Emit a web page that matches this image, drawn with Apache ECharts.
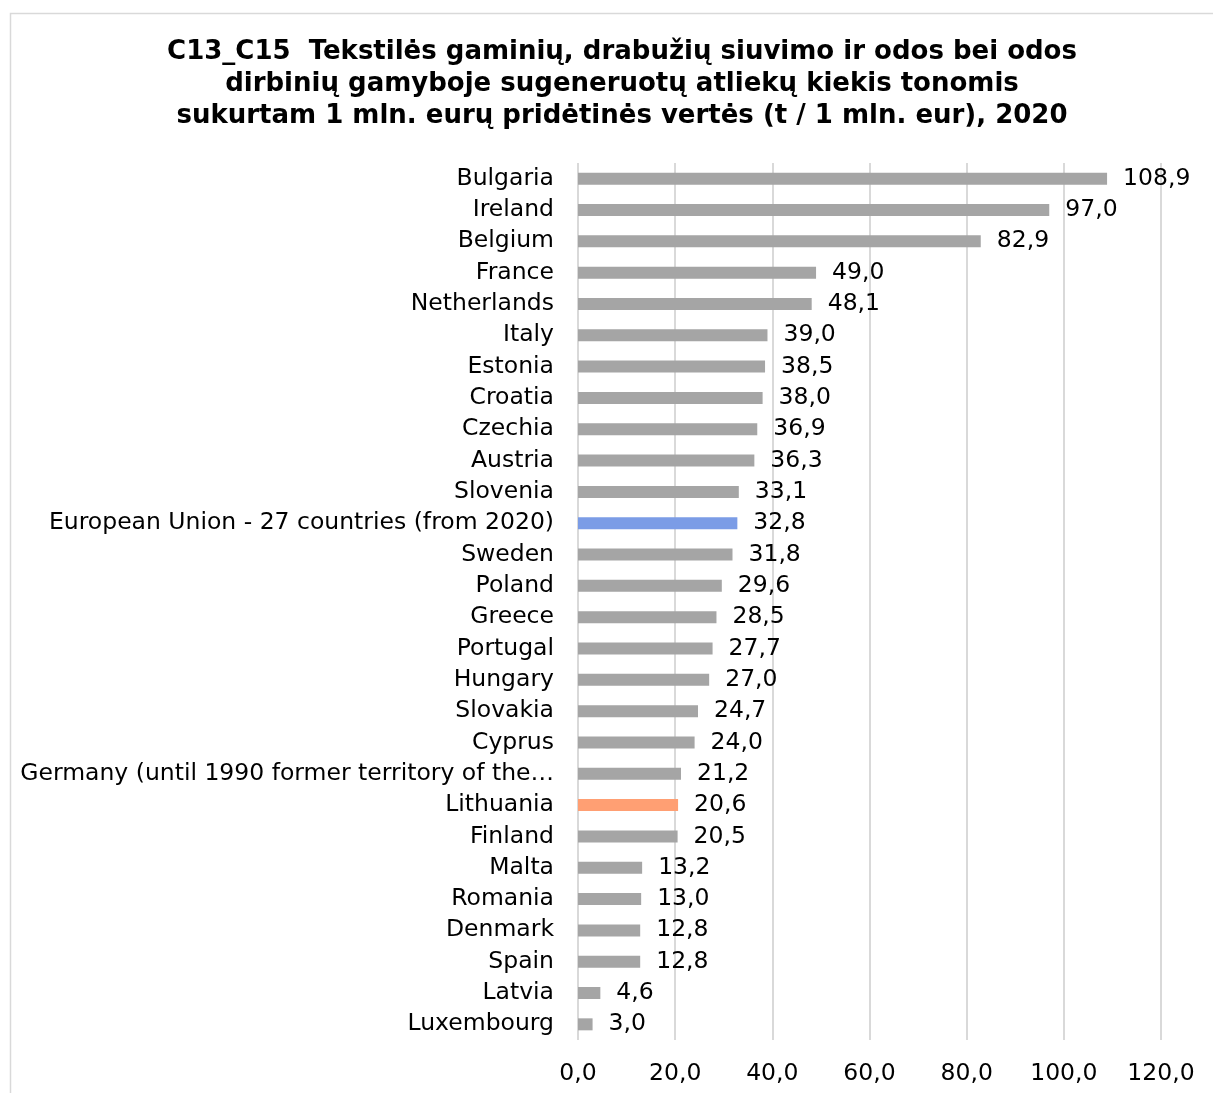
<!DOCTYPE html>
<html>
<head>
<meta charset="utf-8">
<script src="https://cdn.jsdelivr.net/npm/echarts@6/dist/echarts.min.js"></script>
<style>
  html, body { margin: 0; padding: 0; background: #fff; }
  #chart { width: 1213px; height: 1093px; }
</style>
</head>
<body>
<div id="chart"></div>
<script>
// Countries, sorted from highest to lowest waste intensity
const countries = [
  'Bulgaria', 'Ireland', 'Belgium', 'France', 'Netherlands', 'Italy', 'Estonia',
  'Croatia', 'Czechia', 'Austria', 'Slovenia', 'European Union - 27 countries (from 2020)',
  'Sweden', 'Poland', 'Greece', 'Portugal', 'Hungary', 'Slovakia', 'Cyprus',
  'Germany (until 1990 former territory of the FRG)', 'Lithuania', 'Finland', 'Malta',
  'Romania', 'Denmark', 'Spain', 'Latvia', 'Luxembourg'
];

// Tonnes of waste per 1 mln EUR of value added, 2020
const values = [
  108.9, 97.0, 82.9, 49.0, 48.1, 39.0, 38.5,
  38.0, 36.9, 36.3, 33.1, 32.8,
  31.8, 29.6, 28.5, 27.7, 27.0, 24.7, 24.0,
  21.2, 20.6, 20.5, 13.2,
  13.0, 12.8, 12.8, 4.6, 3.0
];

// Value axis tick values
const xTicks = [0, 20, 40, 60, 80, 100, 120];

const titleLines = [
  'C13_C15  Tekstilės gaminių, drabužių siuvimo ir odos bei odos',
  'dirbinių gamyboje sugeneruotų atliekų kiekis tonomis',
  'sukurtam 1 mln. eurų pridėtinės vertės (t / 1 mln. eur), 2020'
];

const COLOR_DEFAULT = '#A5A5A5';
const COLOR_EU = '#7B9CE6';
const COLOR_LT = '#FF9F73';

function barColor(name) {
  if (name.indexOf('European Union') === 0) return COLOR_EU;
  if (name === 'Lithuania') return COLOR_LT;
  return COLOR_DEFAULT;
}

const fmt = v => v.toFixed(1).replace('.', ',');

// Long category names are cut short with an ellipsis
const MAX_LABEL_CHARS = 43;
const shortName = s => s.length > MAX_LABEL_CHARS ? s.slice(0, MAX_LABEL_CHARS) + '…' : s;

const FONT = '"DejaVu Sans", Verdana, sans-serif';
const LABEL_SIZE = 23.5;

const chart = echarts.init(document.getElementById('chart'), null, { renderer: 'canvas' });

chart.setOption({
  animation: false,
  backgroundColor: '#ffffff',
  graphic: [{
    type: 'rect',
    left: 8, top: 11,
    shape: { width: 1300, height: 1200 },
    style: { fill: 'none', stroke: '#D9D9D9', lineWidth: 1.5 },
    z: -10
  }],
  title: {
    text: titleLines.join('\n'),
    left: 617,
    textAlign: 'center',
    top: 31,
    textStyle: {
      fontFamily: FONT,
      fontWeight: 'bold',
      fontSize: 26,
      lineHeight: 32,
      color: '#000'
    }
  },
  grid: {
    left: 578,
    right: 52,
    top: 163,
    bottom: 53,
    containLabel: false
  },
  xAxis: {
    type: 'value',
    min: xTicks[0],
    max: xTicks[xTicks.length - 1],
    interval: 20,
    axisLine: { show: false },
    axisTick: { show: false },
    splitLine: { show: true, lineStyle: { color: '#D9D9D9', width: 2 } },
    axisLabel: {
      margin: 22,
      fontFamily: FONT,
      fontSize: LABEL_SIZE,
      color: '#000',
      formatter: v => fmt(v)
    }
  },
  yAxis: {
    type: 'category',
    inverse: true,
    data: countries,
    axisLine: { show: false },
    axisTick: { show: false },
    axisLabel: {
      margin: 24,
      fontFamily: FONT,
      fontSize: LABEL_SIZE,
      color: '#000',
      formatter: v => shortName(v)
    }
  },
  series: [{
    type: 'bar',
    barWidth: 12,
    data: values.map((v, i) => ({
      value: v,
      itemStyle: { color: barColor(countries[i]) }
    })),
    label: {
      show: true,
      position: 'right',
      distance: 16,
      fontFamily: FONT,
      fontSize: LABEL_SIZE,
      color: '#000',
      formatter: p => fmt(p.value)
    }
  }]
});
</script>
</body>
</html>
